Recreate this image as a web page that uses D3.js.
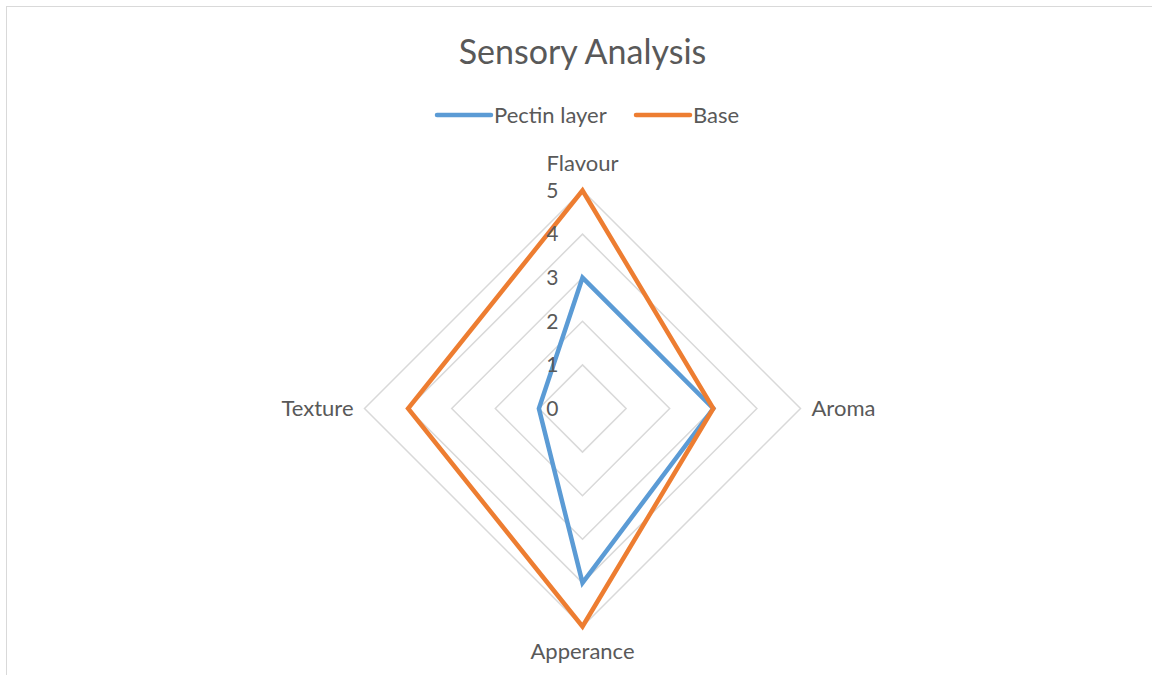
<!DOCTYPE html>
<html>
<head>
<meta charset="utf-8">
<script src="https://cdn.jsdelivr.net/npm/d3@7"></script>
<style>
  body { margin: 0; background: #fff; }
  svg text { font-family: Lato, "Open Sans", sans-serif; fill: #595959; }
</style>
</head>
<body>
<svg width="1152" height="675"></svg>
<script>
// chart data
const axes = ['Flavour', 'Aroma', 'Apperance', 'Texture'];
const pectinLayer = [3, 3, 4, 1];
const base = [5, 3, 5, 4];
const seriesNames = ['Pectin layer', 'Base'];
const seriesColors = ['#5b9bd5', '#ed7d31'];
const ticks = [0, 1, 2, 3, 4, 5];

const svg = d3.select('svg');
const cx = 582.5, cy = 408.5, R = 218;

// border of the chart area
svg.append('rect')
  .attr('x', 6.5).attr('y', 6.5)
  .attr('width', 1160).attr('height', 680)
  .attr('fill', 'none').attr('stroke', '#d9d9d9').attr('stroke-width', 1);

const r = d3.scaleLinear().domain([0, 5]).range([0, R]);
const angle = i => i * Math.PI / 2; // 0 = top, clockwise

function pt(i, v) {
  return [cx + r(v) * Math.sin(angle(i)), cy - r(v) * Math.cos(angle(i))];
}

const line = d3.line();

// grid rings
const g = svg.append('g');
ticks.slice(1).forEach(t => {
  g.append('path')
    .attr('d', line(axes.map((a, i) => pt(i, t))) + 'Z')
    .attr('fill', 'none')
    .attr('stroke', '#d9d9d9')
    .attr('stroke-width', 1.5);
});

// series
[pectinLayer, base].forEach((vals, k) => {
  svg.append('path')
    .attr('d', line(vals.map((v, i) => pt(i, v))) + 'Z')
    .attr('fill', 'none')
    .attr('stroke', seriesColors[k])
    .attr('stroke-width', 4.5)
    .attr('stroke-linejoin', 'miter');
});

// tick labels
ticks.forEach(t => {
  svg.append('text')
    .attr('x', cx - 24)
    .attr('y', cy - r(t))
    .attr('dy', '0.35em')
    .attr('text-anchor', 'end')
    .style('font-size', '21px')
    .text(t);
});

// axis labels
const labelPos = [
  { x: cx, y: cy - R - 27, anchor: 'middle' },
  { x: cx + R + 11, y: cy, anchor: 'start' },
  { x: cx, y: cy + R + 25, anchor: 'middle' },
  { x: cx - R - 11, y: cy, anchor: 'end' }
];
axes.forEach((a, i) => {
  svg.append('text')
    .attr('x', labelPos[i].x)
    .attr('y', labelPos[i].y)
    .attr('dy', '0.35em')
    .attr('text-anchor', labelPos[i].anchor)
    .style('font-size', '22px')
    .text(a);
});

// title
svg.append('text')
  .attr('x', cx)
  .attr('y', 64)
  .attr('text-anchor', 'middle')
  .style('font-size', '34px')
  .text('Sensory Analysis');

// legend
const legendX = [437, 636];
seriesNames.forEach((n, k) => {
  const lg = svg.append('g').attr('transform', `translate(${legendX[k]},115)`);
  lg.append('line')
    .attr('x1', 0).attr('x2', 54)
    .attr('stroke', seriesColors[k])
    .attr('stroke-width', 4.5)
    .attr('stroke-linecap', 'round');
  lg.append('text')
    .attr('x', 57)
    .attr('dy', '0.35em')
    .style('font-size', '22px')
    .text(n);
});
</script>
</body>
</html>
